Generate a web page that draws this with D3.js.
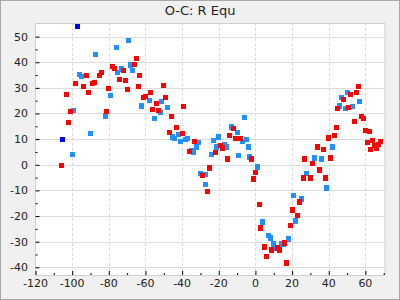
<!DOCTYPE html>
<html lang="en">
<head>
<meta charset="UTF-8">
<title>O-C: R Equ</title>
<script src="https://d3js.org/d3.v7.min.js"></script>
<style>
    body { margin: 0; background: #f0f0f0; }
    text { font-family: "DejaVu Sans", sans-serif; fill: #222; }
</style>
</head>
<body>
<svg id="chart" width="400" height="300"></svg>
<script>
// O-C values: [epoch offset, O-C]
const bluePts = [
    [-99.7, 3.9], [-99.2, 21.1], [-89.9, 12.1], [-81.7, 19.1], [-87.2, 43.0],
    [-75.7, 45.7], [-69.2, 48.4], [-68.1, 38.9], [-67.0, 36.7], [-73.0, 37.3],
    [-75.2, 35.9], [-95.9, 35.2], [-94.8, 34.4], [-79.0, 27.0], [-57.8, 25.0],
    [-62.1, 23.0], [-55.0, 18.0], [-51.2, 24.6], [-51.8, 20.3], [-48.0, 22.3],
    [-45.2, 10.9], [-44.1, 10.2], [-42.0, 11.7], [-40.9, 9.0], [-38.1, 9.8],
    [-37.1, 10.2], [-31.1, 8.6], [-32.2, 7.0], [-33.8, 4.7], [-34.9, 5.5],
    [-22.9, 9.4], [-20.2, 10.9], [-21.3, 7.0], [-24.0, 3.9], [-30.0, -3.5],
    [-27.6, -3.9], [-27.2, -7.8], [-16.9, 7.8], [-15.8, 7.0], [-13.1, 14.8],
    [-9.8, 12.5], [-7.1, 9.0], [-4.9, 9.8], [-6.0, 18.4], [-3.8, 7.0],
    [-9.3, 3.5], [-3.3, 3.1], [1.1, -0.8], [3.8, -22.3], [7.1, -27.7],
    [8.2, -28.5], [9.8, -30.9], [10.9, -32.4], [14.2, -30.9], [15.3, -30.9],
    [18.0, -28.9], [21.8, -21.9], [25.1, -13.3], [20.7, -12.1], [27.8, -3.5],
    [32.2, 2.7], [36.0, 2.3], [38.7, -9.0], [42.0, 7.0], [45.8, 23.0],
    [49.0, 21.9], [52.9, 22.7], [46.9, 26.2], [50.1, 28.1], [56.7, 24.6]
];
const redPts = [
    [-105.7, -0.4], [-101.9, 16.4], [-100.8, 20.7], [-81.2, 20.7], [-64.9, 41.4],
    [-65.9, 39.1], [-63.2, 34.8], [-77.9, 38.3], [-76.8, 37.5], [-71.9, 36.7],
    [-74.1, 33.2], [-70.8, 32.8], [-69.8, 29.3], [-63.8, 30.5], [-92.1, 34.8],
    [-83.9, 35.9], [-85.0, 34.8], [-87.7, 32.0], [-88.8, 31.6], [-98.1, 31.6],
    [-93.7, 30.5], [-91.0, 28.1], [-103.0, 27.3], [-80.1, 29.7], [-57.2, 28.1],
    [-59.9, 26.6], [-61.0, 26.2], [-54.0, 23.8], [-56.1, 21.5], [-52.9, 21.1],
    [-50.1, 30.9], [-49.0, 26.2], [-39.2, 22.7], [-45.8, 18.8], [-43.1, 14.5],
    [-46.9, 12.5], [-39.8, 12.1], [-33.2, 9.0], [-36.0, 5.1], [-21.8, 4.7],
    [-25.1, -1.2], [-28.9, -4.3], [-26.2, -10.5], [-19.1, 7.4], [-18.0, 6.6],
    [-14.2, 11.3], [-12.0, 14.1], [-10.9, 10.2], [-9.3, 10.2], [-8.2, 10.2],
    [-15.3, 2.3], [-2.2, 2.3], [0.0, -3.1], [-1.1, -5.5], [2.2, -15.6],
    [2.7, -24.6], [4.9, -32.0], [12.0, -32.4], [8.7, -33.2], [13.1, -33.2],
    [15.8, -30.5], [6.0, -35.9], [16.9, -38.3], [19.1, -23.8], [22.9, -19.9],
    [20.2, -17.6], [24.0, -14.5], [26.7, 2.3], [40.9, 2.7], [31.1, 0.4],
    [34.9, -2.0], [26.2, -5.1], [30.0, -5.1], [38.1, -5.1], [33.8, 7.0],
    [37.1, 5.9], [39.8, 10.5], [43.1, 11.3], [44.1, 14.5], [44.7, 21.9],
    [50.7, 22.3], [48.0, 25.4], [51.8, 27.3], [55.0, 28.1], [56.1, 30.5],
    [54.0, 16.8], [57.8, 18.8], [58.9, 18.0], [59.9, 13.3], [62.1, 12.9],
    [61.0, 8.6], [63.8, 9.4], [68.1, 9.0], [64.9, 7.4], [67.0, 7.8],
    [65.9, 6.6], [62.7, 5.9]
];
const darkPts = [[-97.0, 53.9], [-105.2, 9.8]];

const xTicks = [-120, -100, -80, -60, -40, -20, 0, 20, 40, 60];
const yTicks = [-40, -30, -20, -10, 0, 10, 20, 30, 40, 50];

const svg = d3.select("#chart");
const plotL = 35.5, plotR = 385, plotT = 23, plotB = 275;

const x = d3.scaleLinear().domain([-120, 70.7]).range([plotL, plotR]);
const y = d3.scaleLinear().domain([-43, 55.3]).range([plotB, plotT]);

// background + outer frame
svg.append("rect")
    .attr("x", 0.5).attr("y", 0.5)
    .attr("width", 399).attr("height", 299)
    .attr("fill", "#f0f0f0")
    .attr("stroke", "#a8a8a8");

svg.append("rect")
    .attr("x", plotL).attr("y", plotT)
    .attr("width", plotR - plotL).attr("height", plotB - plotT)
    .attr("fill", "#fff");

// grid
svg.append("g").selectAll("line")
    .data(yTicks)
    .enter().append("line")
    .attr("x1", plotL).attr("x2", plotR)
    .attr("y1", d => Math.round(y(d)) + 0.5)
    .attr("y2", d => Math.round(y(d)) + 0.5)
    .attr("stroke", "#dcdcdc");

svg.append("g").selectAll("line")
    .data(xTicks.filter(d => d > -120))
    .enter().append("line")
    .attr("x1", d => Math.round(x(d)) + 0.5)
    .attr("x2", d => Math.round(x(d)) + 0.5)
    .attr("y1", plotT).attr("y2", plotB)
    .attr("stroke", "#dcdcdc")
    .attr("stroke-dasharray", "3,2");

svg.append("rect")
    .attr("x", plotL).attr("y", plotT + 0.5)
    .attr("width", plotR - plotL).attr("height", plotB - plotT)
    .attr("fill", "none")
    .attr("stroke", "#cfcfcf");

// axes, ticks pointing into the plot
const yAxis = d3.axisRight(y).tickValues(yTicks).tickSize(4).tickFormat("");
const yMinor = d3.axisRight(y).tickValues(d3.range(-35, 55, 10)).tickSize(2).tickFormat("");
const xAxis = d3.axisTop(x).tickValues(xTicks).tickSize(4).tickFormat("");
const xMinor = d3.axisTop(x).tickValues(d3.range(-110, 71, 20)).tickSize(2).tickFormat("");

[yAxis, yMinor].forEach(a => {
    const g = svg.append("g").attr("transform", `translate(${plotL},0)`).call(a);
    g.select(".domain").remove();
    g.selectAll("line").attr("stroke", "#000");
});
[xAxis, xMinor].forEach(a => {
    const g = svg.append("g").attr("transform", `translate(0,${plotB})`).call(a);
    g.select(".domain").remove();
    g.selectAll("line").attr("stroke", "#000");
});

// tick labels
svg.append("g").selectAll("text")
    .data(yTicks)
    .enter().append("text")
    .attr("x", 28)
    .attr("y", d => y(d) + 4)
    .attr("text-anchor", "end")
    .style("font-size", "11px")
    .text(d => d);

svg.append("g").selectAll("text")
    .data(xTicks)
    .enter().append("text")
    .attr("x", d => x(d))
    .attr("y", 287)
    .attr("text-anchor", "middle")
    .style("font-size", "11px")
    .text(d => d);

// title
svg.append("text")
    .attr("x", 200).attr("y", 15)
    .attr("text-anchor", "middle")
    .style("font-size", "13px")
    .text("O-C: R Equ");

// points
const size = 5.4;
function drawSeries(pts, color) {
    svg.append("g").selectAll("rect")
        .data(pts)
        .enter().append("rect")
        .attr("x", d => x(d[0]) - size / 2)
        .attr("y", d => y(d[1]) - size / 2)
        .attr("width", size)
        .attr("height", size)
        .attr("fill", color)
        .attr("shape-rendering", "crispEdges");
}
drawSeries(bluePts, "#1e90ff");
drawSeries(redPts, "#ff0000");
drawSeries(darkPts, "#0000ff");
</script>
</body>
</html>
